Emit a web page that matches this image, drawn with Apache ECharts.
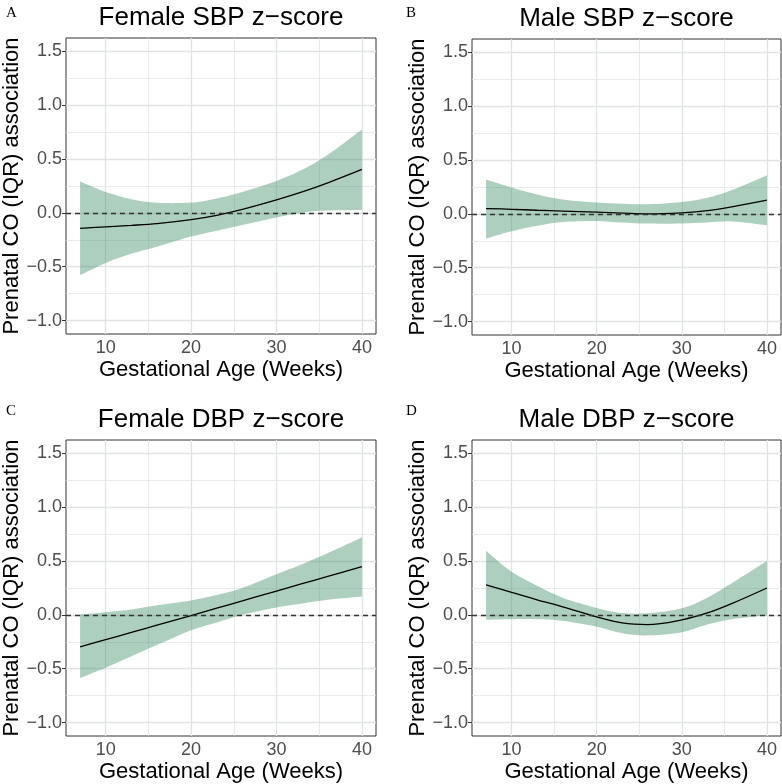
<!DOCTYPE html>
<html>
<head>
<meta charset="utf-8">
<script src="https://cdn.jsdelivr.net/npm/echarts@6/dist/echarts.min.js"></script>
<style>
html,body{margin:0;padding:0;background:#fff;}
#chart{width:782px;height:784px;}
</style>
</head>
<body>
<div id="chart"></div>
<script>
// ---- data ----
const weeks = [7, 10, 13, 16, 20, 23, 26, 30, 33, 36, 40];
const panelTitles = ['Female SBP z\u2212score', 'Male SBP z\u2212score', 'Female DBP z\u2212score', 'Male DBP z\u2212score'];
const panelLetters = ['A', 'B', 'C', 'D'];
const xTicks = [10, 20, 30, 40];
const xMinor = [15, 25, 35];
const yTicks = [-1.0, -0.5, 0.0, 0.5, 1.0, 1.5];
const yMinor = [-0.75, -0.25, 0.25, 0.75, 1.25];

const femaleSbpFit   = [-0.143, -0.130, -0.116, -0.099, -0.062, -0.022, 0.033, 0.121, 0.195, 0.280, 0.405];
const femaleSbpUpper = [0.292, 0.195, 0.128, 0.094, 0.096, 0.135, 0.195, 0.297, 0.400, 0.540, 0.776];
const femaleSbpLower = [-0.578, -0.465, -0.380, -0.315, -0.220, -0.165, -0.112, -0.043, 0.003, 0.022, 0.028];

const maleSbpFit   = [0.050, 0.043, 0.034, 0.026, 0.016, 0.007, 0.000, 0.010, 0.030, 0.068, 0.128];
const maleSbpUpper = [0.319, 0.245, 0.180, 0.135, 0.106, 0.095, 0.090, 0.111, 0.150, 0.225, 0.360];
const maleSbpLower = [-0.228, -0.160, -0.110, -0.075, -0.065, -0.080, -0.090, -0.089, -0.080, -0.070, -0.105];

const femaleDbpFit   = [-0.297, -0.229, -0.163, -0.095, -0.006, 0.063, 0.130, 0.222, 0.290, 0.358, 0.448];
const femaleDbpUpper = [0.003, 0.024, 0.050, 0.090, 0.135, 0.185, 0.250, 0.377, 0.470, 0.575, 0.720];
const femaleDbpLower = [-0.585, -0.490, -0.385, -0.280, -0.143, -0.070, 0.000, 0.068, 0.105, 0.140, 0.170];

const maleDbpFit   = [0.280, 0.210, 0.140, 0.075, -0.019, -0.075, -0.090, -0.046, 0.018, 0.110, 0.250];
const maleDbpUpper = [0.595, 0.400, 0.270, 0.160, 0.065, 0.018, 0.015, 0.062, 0.160, 0.300, 0.500];
const maleDbpLower = [-0.045, -0.040, -0.040, -0.055, -0.110, -0.170, -0.190, -0.160, -0.090, -0.038, -0.005];

const panels = [
  {fit: femaleSbpFit, upper: femaleSbpUpper, lower: femaleSbpLower},
  {fit: maleSbpFit, upper: maleSbpUpper, lower: maleSbpLower},
  {fit: femaleDbpFit, upper: femaleDbpUpper, lower: femaleDbpLower},
  {fit: maleDbpFit, upper: maleDbpUpper, lower: maleDbpLower}
];

// ---- layout ----
const grids = [
  {left: 66, top: 38, width: 310, height: 296},
  {left: 472, top: 39, width: 309, height: 296},
  {left: 66, top: 440, width: 310, height: 296},
  {left: 472, top: 440, width: 309, height: 296}
];
const SANS = 'Liberation Sans, Arial, Helvetica, sans-serif';
const SERIF = 'Liberation Serif, Times New Roman, serif';
const bandColor = 'rgba(60,140,100,0.42)';
const gridColor = '#dfe3e3';

const fmtY = v => v.toFixed(1).replace('-', '\u2212');

// Catmull-Rom spline path through pixel points (drawing helper)
function splineSeg(pts) {
  let d = '';
  for (let i = 0; i < pts.length - 1; i++) {
    const p0 = pts[Math.max(i - 1, 0)], p1 = pts[i], p2 = pts[i + 1], p3 = pts[Math.min(i + 2, pts.length - 1)];
    const c1 = [p1[0] + (p2[0] - p0[0]) / 6, p1[1] + (p2[1] - p0[1]) / 6];
    const c2 = [p2[0] - (p3[0] - p1[0]) / 6, p2[1] - (p3[1] - p1[1]) / 6];
    d += ' C' + c1[0] + ',' + c1[1] + ' ' + c2[0] + ',' + c2[1] + ' ' + p2[0] + ',' + p2[1];
  }
  return d;
}

const option = {
  animation: false,
  backgroundColor: '#fff',
  grid: grids.map(g => Object.assign({show: true, borderColor: '#333', borderWidth: 1, backgroundColor: 'transparent', containLabel: false, outerBoundsMode: 'none'}, g)),
  xAxis: grids.map((g, i) => ({
    type: 'value', gridIndex: i, min: 5.35, max: 41.65,
    axisLine: {show: false},
    axisTick: {show: true, length: 4, lineStyle: {color: '#333', width: 1}, customValues: xTicks},
    axisLabel: {customValues: xTicks, fontSize: 18, color: '#4d4d4d', fontFamily: SANS, margin: 5},
    splitLine: {show: false},
    name: 'Gestational Age (Weeks)', nameLocation: 'middle', nameGap: 25,
    nameTextStyle: {fontSize: 22, color: '#000', fontFamily: SANS}
  })),
  yAxis: grids.map((g, i) => ({
    type: 'value', gridIndex: i, min: -1.125, max: 1.625,
    axisLine: {show: false},
    axisTick: {show: true, length: 4, lineStyle: {color: '#333', width: 1}, customValues: yTicks},
    axisLabel: {customValues: yTicks, formatter: fmtY, fontSize: 18, color: '#4d4d4d', fontFamily: SANS, margin: 4},
    splitLine: {show: false},
    name: 'Prenatal CO (IQR) association', nameLocation: 'middle', nameGap: 43,
    nameTextStyle: {fontSize: 22, color: '#000', fontFamily: SANS}
  })),
  graphic: [],
  series: []
};

panels.forEach((p, i) => {
  const gridLines = [];
  xMinor.forEach(v => gridLines.push({xAxis: v, lineStyle: {color: gridColor, width: 0.7, type: 'solid'}}));
  yMinor.forEach(v => gridLines.push({yAxis: v, lineStyle: {color: gridColor, width: 0.7, type: 'solid'}}));
  xTicks.forEach(v => gridLines.push({xAxis: v, lineStyle: {color: gridColor, width: 1.3, type: 'solid'}}));
  yTicks.forEach(v => gridLines.push({yAxis: v, lineStyle: {color: gridColor, width: 1.3, type: 'solid'}}));

  // grid lines
  option.series.push({
    type: 'line', xAxisIndex: i, yAxisIndex: i, z: 1, silent: true,
    data: weeks.map((w, k) => [w, p.fit[k]]),
    showSymbol: false, symbol: 'none', lineStyle: {opacity: 0, width: 0},
    markLine: {silent: true, symbol: ['none', 'none'], label: {show: false}, z: 1, animation: false, data: gridLines}
  });
  // confidence ribbon
  option.series.push({
    type: 'custom', xAxisIndex: i, yAxisIndex: i, z: 2, silent: true,
    data: weeks.map((w, k) => [w, p.upper[k], p.lower[k]]),
    encode: {x: 0, y: [1, 2]},
    renderItem: function (params, api) {
      if (params.dataIndex !== 0) return null;
      const up = weeks.map((w, k) => api.coord([w, p.upper[k]]));
      const lo = weeks.map((w, k) => api.coord([w, p.lower[k]])).reverse();
      let d = 'M' + up[0][0] + ',' + up[0][1] + splineSeg(up);
      d += ' L' + lo[0][0] + ',' + lo[0][1] + splineSeg(lo) + ' Z';
      return {type: 'path', shape: {pathData: d}, style: {fill: bandColor, stroke: null}};
    }
  });
  // fitted line
  option.series.push({
    type: 'line', xAxisIndex: i, yAxisIndex: i, z: 3, silent: true, smooth: 0.35,
    data: weeks.map((w, k) => [w, p.fit[k]]),
    showSymbol: false, symbol: 'none', lineStyle: {color: '#000', width: 1.3}
  });
  // zero reference line
  option.series.push({
    type: 'line', xAxisIndex: i, yAxisIndex: i, z: 4, silent: true,
    data: [], showSymbol: false, symbol: 'none',
    markLine: {silent: true, symbol: ['none', 'none'], label: {show: false}, z: 4, animation: false,
      data: [{yAxis: 0, lineStyle: {color: '#333', width: 1.3, type: [5, 4]}}]}
  });

  const g = grids[i];
  option.graphic.push({
    type: 'text', x: g.left + g.width / 2, y: g.top - 20,
    style: {text: panelTitles[i], fontSize: 26, fontFamily: SANS, fill: '#000', align: 'center', verticalAlign: 'middle'}
  });
  option.graphic.push({
    type: 'text', x: (i % 2 === 0 ? 6 : 406), y: (i < 2 ? 13 : 411),
    style: {text: panelLetters[i], fontSize: 15, fontFamily: SERIF, fill: '#000', align: 'left', verticalAlign: 'middle'}
  });
});

const chart = echarts.init(document.getElementById('chart'), null, {renderer: 'canvas'});
chart.setOption(option);
</script>
</body>
</html>
